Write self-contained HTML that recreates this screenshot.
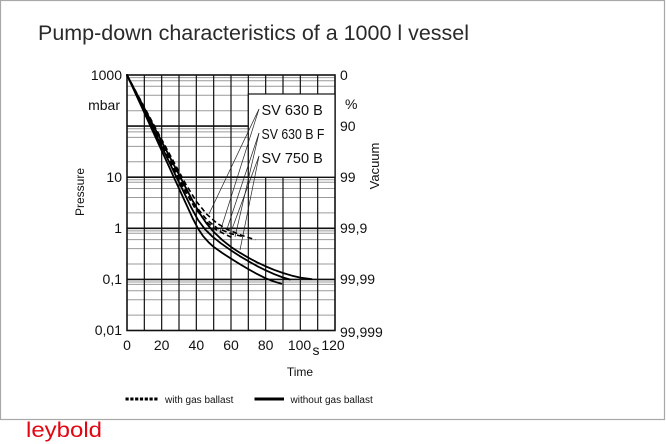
<!DOCTYPE html>
<html><head><meta charset="utf-8"><style>
html,body{margin:0;padding:0;background:#fff;}
svg{display:block;font-family:"Liberation Sans",Arial,sans-serif;}
</style></head><body>
<svg width="666" height="444" viewBox="0 0 666 444" xmlns="http://www.w3.org/2000/svg">
<rect x="0.5" y="0.5" width="664" height="419" fill="#fff" stroke="#a8a8a8" stroke-width="1.2"/>
<text x="38" y="40" font-size="21.5" fill="#2a2a2a" textLength="431" lengthAdjust="spacingAndGlyphs">Pump-down characteristics of a 1000 l vessel</text>

<!-- minor grid -->
<g stroke="#9a9a9a" stroke-width="1">
<line x1="127" x2="335" y1="77.6" y2="77.6"/><line x1="127" x2="335" y1="80.8" y2="80.8"/><line x1="127" x2="335" y1="86.3" y2="86.3"/><line x1="127" x2="335" y1="95.3" y2="95.3"/><line x1="127" x2="335" y1="110.7" y2="110.7"/>
<line x1="127" x2="335" y1="128.7" y2="128.7"/><line x1="127" x2="335" y1="131.9" y2="131.9"/><line x1="127" x2="335" y1="137.4" y2="137.4"/><line x1="127" x2="335" y1="146.4" y2="146.4"/><line x1="127" x2="335" y1="161.8" y2="161.8"/>
<line x1="127" x2="335" y1="179.8" y2="179.8"/><line x1="127" x2="335" y1="182.2" y2="182.2"/><line x1="127" x2="335" y1="188.5" y2="188.5"/><line x1="127" x2="335" y1="197.5" y2="197.5"/><line x1="127" x2="335" y1="212.9" y2="212.9"/>
<line x1="127" x2="335" y1="230.9" y2="230.9"/><line x1="127" x2="335" y1="233.3" y2="233.3"/><line x1="127" x2="335" y1="239.6" y2="239.6"/><line x1="127" x2="335" y1="248.6" y2="248.6"/><line x1="127" x2="335" y1="264" y2="264"/>
<line x1="127" x2="335" y1="282" y2="282"/><line x1="127" x2="335" y1="284.4" y2="284.4"/><line x1="127" x2="335" y1="290.7" y2="290.7"/><line x1="127" x2="335" y1="299.7" y2="299.7"/><line x1="127" x2="335" y1="315.1" y2="315.1"/>
</g>
<!-- vertical grid -->
<g stroke="#111" stroke-width="1.2">
<line x1="144.33" x2="144.33" y1="75" y2="330.5"/><line x1="161.67" x2="161.67" y1="75" y2="330.5"/><line x1="179" x2="179" y1="75" y2="330.5"/><line x1="196.33" x2="196.33" y1="75" y2="330.5"/><line x1="213.67" x2="213.67" y1="75" y2="330.5"/><line x1="231" x2="231" y1="75" y2="330.5"/><line x1="248.33" x2="248.33" y1="75" y2="330.5"/><line x1="265.67" x2="265.67" y1="75" y2="330.5"/><line x1="283" x2="283" y1="75" y2="330.5"/><line x1="300.33" x2="300.33" y1="75" y2="330.5"/><line x1="317.67" x2="317.67" y1="75" y2="330.5"/>
</g>
<!-- decade lines -->
<g stroke="#111" stroke-width="1.6">
<line x1="127" x2="335" y1="126.1" y2="126.1"/><line x1="127" x2="335" y1="177.2" y2="177.2"/><line x1="127" x2="335" y1="228.3" y2="228.3"/><line x1="127" x2="335" y1="279.4" y2="279.4"/>
</g>
<rect x="127" y="75" width="208" height="255.5" fill="none" stroke="#111" stroke-width="1.6"/>

<!-- label box -->
<rect x="248.33" y="94" width="86.67" height="83.2" fill="#fff" stroke="#111" stroke-width="1.2"/>
<g font-size="14.5" fill="#111">
<text x="261.5" y="115">SV 630 B</text>
<text transform="translate(261.5,139) scale(0.85,1)" x="0" y="0">SV 630 B F</text>
<text x="261.5" y="163">SV 750 B</text>
</g>

<!-- leader lines -->
<g stroke="#222" stroke-width="0.7">
<line x1="259" y1="109" x2="209" y2="214"/><line x1="259" y1="109" x2="220" y2="232"/>
<line x1="259" y1="133" x2="227" y2="229"/><line x1="259" y1="133" x2="235" y2="237"/>
<line x1="259" y1="156" x2="232" y2="229"/><line x1="259" y1="156" x2="240" y2="250"/>
</g>

<!-- solid curves -->
<g fill="none" stroke="#000" stroke-width="1.8" stroke-linejoin="round" stroke-linecap="round">
<polyline points="127,75 144.33,112.81 161.67,150.63 179,188.44 189.4,211.13 192.87,218.69 195.47,223.7 198.07,228.66 200.67,232.49 203.27,236.32 205.87,239.24 208.47,242.15 213.67,246.9 222.33,253.03 231,258.65 239.67,264.02 248.33,269.13 257,273.98 265.67,278.33 274.33,281.65 281.27,283.69"/>
<polyline points="127,75 144.33,110.77 161.67,146.54 179,182.31 191.13,207.35 194.6,213.69 198.07,220.02 201.53,224.62 205,229.22 208.47,232.69 211.93,236.17 220.6,243.07 231,250.43 239.67,256.05 248.33,261.16 257,266.01 265.67,270.36 274.33,274.19 283,277.51 289.93,279.55"/>
<polyline points="127,75 144.33,108.21 161.67,141.43 179,174.65 192.87,201.22 196.33,207.35 199.8,213.48 203.27,218.59 206.73,223.7 210.2,227.79 213.67,231.88 222.33,240.05 231,246.95 239.67,252.57 248.33,257.68 257,262.28 265.67,266.37 274.33,269.95 283,273.01 291.67,275.57 300.33,277.61 311.6,279.14"/>
</g>
<!-- dashed curves -->
<g fill="none" stroke="#000" stroke-width="1.6" stroke-dasharray="5,3" stroke-linejoin="round">
<polyline points="127,75 144.33,107.19 161.67,139.39 179,171.58 185.93,184.46 191.13,192.89 196.33,201.32 201.53,207.76 206.73,214.2 211.93,218.8 217.13,223.39 222.33,226.46 227.53,229.53 234.47,232.39 241.4,235.25 248.33,237.5 255.27,239.75"/>
<polyline points="127,75 144.33,108.73 161.67,142.45 179,176.18 185.93,189.67 191.13,198.25 196.33,206.84 201.53,213.28 206.73,219.72 211.93,223.85 217.13,227.99 224.07,230.86 231,233.72 243.13,236.58"/>
<polyline points="127,75 144.33,109.75 161.67,144.5 179,179.24 184.2,189.67 189.4,198.56 194.6,207.45 199.8,214.04 205,220.64 210.2,224.93 215.4,229.22 224.07,233.82 232.73,237.91"/>
</g>

<!-- left axis labels -->
<g font-size="14" fill="#111" text-anchor="end">
<text x="122" y="80">1000</text>
<text x="120" y="110">mbar</text>
<text x="122" y="182">10</text>
<text x="122" y="233">1</text>
<text x="122" y="284">0,1</text>
<text x="122" y="335">0,01</text>
</g>
<!-- right axis labels -->
<g font-size="14" fill="#111">
<text x="340" y="80">0</text>
<text x="345" y="109">%</text>
<text x="340" y="131">90</text>
<text x="340" y="182">99</text>
<text x="340" y="233">99,9</text>
<text x="340" y="284">99,99</text>
<text x="340" y="337">99,999</text>
</g>
<!-- x labels -->
<g font-size="14" fill="#111" text-anchor="middle">
<text x="127" y="350">0</text>
<text x="161.67" y="350">20</text>
<text x="196.33" y="350">40</text>
<text x="231" y="350">60</text>
<text x="265.67" y="350">80</text>
<text x="299.5" y="350">100</text>
<text x="316" y="355">s</text>
<text x="333" y="350">120</text>
</g>
<text x="300" y="376" font-size="12" fill="#111" text-anchor="middle">Time</text>
<text transform="translate(84,192) rotate(-90)" font-size="12" fill="#111" text-anchor="middle">Pressure</text>
<text transform="translate(379,166) rotate(-90)" font-size="13" fill="#111" text-anchor="middle">Vacuum</text>

<!-- legend -->
<line x1="125.5" y1="399" x2="158" y2="399" stroke="#000" stroke-width="3" stroke-dasharray="3.2,1.6"/>
<text x="165" y="403" font-size="10" fill="#111">with gas ballast</text>
<line x1="254.5" y1="399" x2="284" y2="399" stroke="#000" stroke-width="3"/>
<text x="290.5" y="403" font-size="10" fill="#111">without gas ballast</text>

<text x="26" y="437" font-size="21" fill="#e30613" textLength="76" lengthAdjust="spacingAndGlyphs">leybold</text>
</svg>
</body></html>
